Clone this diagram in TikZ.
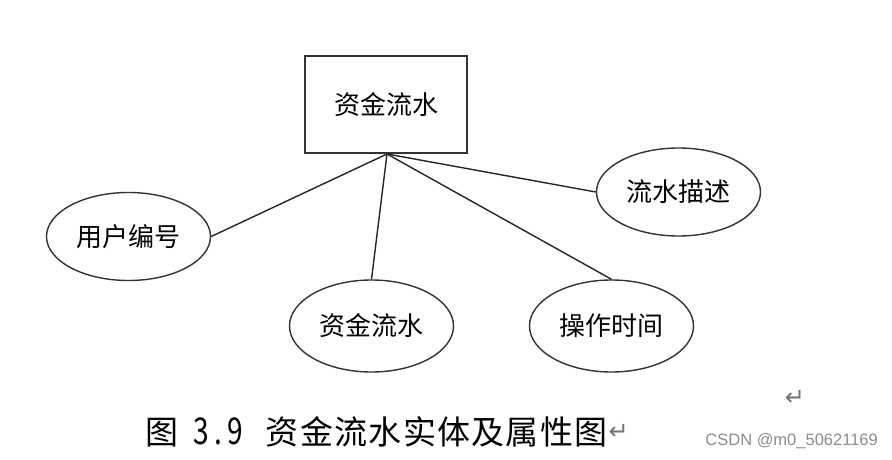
\documentclass[tikz,border=0pt]{standalone}
\usepackage{fontspec}
\usepackage{graphicx}
\setmainfont{Liberation Sans}
\newfontfamily\cjk{Noto Sans CJK SC}
\newfontfamily\dvs{DejaVu Sans}
\usetikzlibrary{shapes.geometric}
\newcommand{\cc}[1]{\makebox[34.3pt]{#1}}
\newcommand{\hc}[1]{\makebox[17.15pt]{\scalebox{0.85}[1.12]{#1}}}
\begin{document}
\begin{tikzpicture}[x=1pt,y=-1pt,
  ent/.style={draw=black!80, line width=1.4pt, minimum width=162pt, minimum height=97pt, inner sep=0pt, font=\cjk\fontsize{26}{26}\selectfont},
  attr/.style={ellipse, draw=black!80, line width=1.4pt, minimum width=164pt, minimum height=88pt, inner sep=0pt, font=\cjk\fontsize{26}{26}\selectfont},
  link/.style={draw=black!85, line width=1.4pt}]
\useasboundingbox (0,0) rectangle (892,460);
\fill[white] (0,0) rectangle (892,460);
\node[ent] (e) at (386,104.5) {资金流水};
\coordinate (hub) at (387,154);
\node[attr] (a1) at (128.5,236.5) {用户编号};
\node[attr] (a2) at (678.5,192) {流水描述};
\node[attr, minimum height=92pt] (a3) at (371.5,326) {资金流水};
\node[attr, minimum height=92pt] (a4) at (611.5,326) {操作时间};
\draw[link] (hub) -- (a1.east);
\draw[link] (hub) -- (a3.north);
\draw[link] (hub) -- (a4.north);
\draw[link] (hub) -- (a2.west);
\node[anchor=west, inner sep=0pt, font=\cjk\fontsize{33}{33}\selectfont] (cap) at (145,432) {\cc{图}\hspace{-4pt}\hc{}\hc{3}\hc{.}\hc{9}\hspace{4pt}\hc{}\cc{资}\cc{金}\cc{流}\cc{水}\cc{实}\cc{体}\cc{及}\cc{属}\cc{性}\cc{图}};
\node[anchor=west, inner sep=0pt, text=black!55, font=\dvs\fontsize{24}{24}\selectfont] (ret1) at (cap.east) {↵};
\node[inner sep=0pt, text=black!55, font=\dvs\fontsize{24}{24}\selectfont] (ret2) at (795,398) {↵};
\node[anchor=east, inner sep=0pt, text=black!45, font=\fontsize{16.5}{16.5}\selectfont] (wm) at (878,441) {CSDN @m0\_50621169};
\end{tikzpicture}
\end{document}
